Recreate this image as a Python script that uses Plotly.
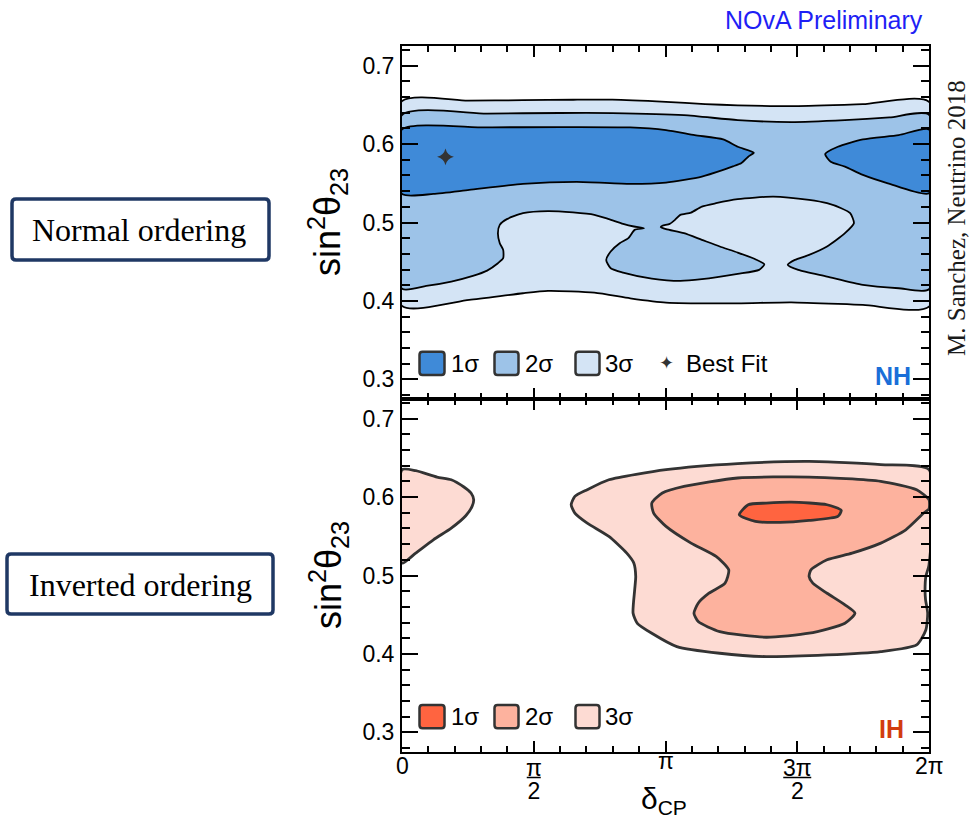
import plotly.graph_objects as go

# ---------------- data (x in units of pi, y = sin^2(theta23)) ----------------
# Normal hierarchy (top panel)
nh3_top_x = [0, 0.25, 0.459, 0.65, 0.798, 1.002, 1.15, 1.274, 1.491, 1.749, 2.0]
nh3_top_y = [0.6547, 0.6553, 0.6559, 0.6565, 0.6566, 0.6538, 0.651, 0.6494, 0.6483, 0.6508, 0.6538]
nh3_bot_x = [2.0, 1.749, 1.477, 1.274, 1.002, 0.866, 0.73, 0.554, 0.459, 0.255, 0]
nh3_bot_y = [0.3928, 0.3949, 0.3983, 0.397, 0.3979, 0.4034, 0.4106, 0.4128, 0.4098, 0.4013, 0.3936]

nh2_top_x = [0, 0.323, 0.6, 0.798, 1.07, 1.274, 1.477, 1.681, 1.85, 2.0]
nh2_top_y = [0.6369, 0.6388, 0.6396, 0.6395, 0.6369, 0.6305, 0.628, 0.6305, 0.634, 0.6373]
nh2_bot_x = [2.0, 1.885, 1.749, 1.613, 1.504, 1.464, 1.491, 1.545, 1.613, 1.681, 1.715,
             1.701, 1.667, 1.613, 1.545, 1.409, 1.274, 1.192, 1.138, 1.097, 1.056, 1.036,
             1.016, 0.988, 0.982, 1.002, 1.07, 1.138, 1.206, 1.274, 1.341, 1.375,
             1.355, 1.274, 1.138, 1.056, 0.948, 0.839, 0.792, 0.775, 0.792, 0.826, 0.859,
             0.883, 0.918, 0.88, 0.839, 0.785, 0.73, 0.649, 0.554, 0.459, 0.398, 0.371,
             0.364, 0.371, 0.384, 0.384, 0.364, 0.323, 0.269, 0.187, 0.092, 0]
nh2_bot_y = [0.4149, 0.4162, 0.4204, 0.4311, 0.4396, 0.446, 0.4523, 0.4587, 0.4694, 0.4864, 0.4991,
             0.5119, 0.5182, 0.5246, 0.5288, 0.533, 0.5297, 0.5246, 0.5203, 0.5127, 0.5097, 0.5034,
             0.4983, 0.4958, 0.4941, 0.4915, 0.4864, 0.4779, 0.4694, 0.4617, 0.4532, 0.4468,
             0.4396, 0.4345, 0.4277, 0.4255, 0.4285, 0.4362, 0.4417, 0.4523, 0.463, 0.4736, 0.48,
             0.4906, 0.4928, 0.4949, 0.4983, 0.5043, 0.5098, 0.5128, 0.5145, 0.5119, 0.5043, 0.497,
             0.4864, 0.4736, 0.4651, 0.4545, 0.4481, 0.4387, 0.4319, 0.4247, 0.4191, 0.4157]

nh1a_x = [0, 0.323, 0.866, 1.002, 1.111, 1.219, 1.274, 1.335, 1.314, 1.287, 1.26, 1.219,
          1.138, 1.002, 0.866, 0.663, 0.459, 0.255, 0.119, 0, 0]
nh1a_y = [0.6186, 0.6212, 0.6212, 0.6178, 0.6114, 0.6059, 0.5966, 0.589, 0.5839, 0.5754, 0.572, 0.567,
          0.5585, 0.5508, 0.5492, 0.5517, 0.5492, 0.5415, 0.5364, 0.5364, 0.6186]
nh1b_x = [2.0, 1.885, 1.749, 1.654, 1.606, 1.627, 1.681, 1.749, 1.844, 2.0, 2.0]
nh1b_y = [0.6186, 0.6114, 0.6059, 0.5966, 0.5873, 0.5775, 0.5712, 0.5606, 0.55, 0.5373, 0.6186]

best_fit_x = [0.165]
best_fit_y = [0.5837]

# Inverted hierarchy (bottom panel)
ih3a_x = [0, 0.052, 0.133, 0.187, 0.235, 0.262, 0.272, 0.266, 0.242, 0.187, 0.119, 0.052, 0, 0]
ih3a_y = [0.6349, 0.6336, 0.6255, 0.6221, 0.6128, 0.6051, 0.5966, 0.5881, 0.5762, 0.5604, 0.5455,
          0.5285, 0.5157, 0.6349]
ih3b_x = [2.0, 1.817, 1.545, 1.274, 1.002, 0.785, 0.703, 0.656, 0.642, 0.656, 0.703, 0.785, 0.853,
          0.88, 0.887, 0.883, 0.877, 0.893, 0.948, 1.043, 1.206, 1.382, 1.613, 1.817, 1.953, 1.988,
          1.995, 1.987, 1.985, 1.988, 2.0, 2.0]
ih3b_y = [0.6349, 0.6413, 0.6455, 0.6426, 0.6349, 0.6221, 0.6094, 0.6009, 0.5902, 0.5796, 0.5668,
          0.5498, 0.5285, 0.5157, 0.4987, 0.4817, 0.4519, 0.4391, 0.4264, 0.4094, 0.4009, 0.3966,
          0.3987, 0.403, 0.4115, 0.4306, 0.4519, 0.4689, 0.4817, 0.4987, 0.5136, 0.6349]
ih2_x = [2.0, 1.953, 1.817, 1.545, 1.274, 1.07, 0.988, 0.948, 0.955, 1.002, 1.097, 1.192, 1.24,
         1.226, 1.165, 1.124, 1.108, 1.124, 1.206, 1.382, 1.545, 1.681, 1.719, 1.681, 1.613,
         1.559, 1.545, 1.552, 1.613, 1.708, 1.817, 1.912, 1.98, 2.0, 2.0]
ih2_y = [0.5966, 0.6094, 0.62, 0.6255, 0.6243, 0.6136, 0.6051, 0.5923, 0.5796, 0.5626, 0.5413,
         0.5243, 0.5072, 0.4902, 0.4774, 0.4647, 0.4519, 0.4413, 0.4285, 0.4213, 0.4264, 0.4391,
         0.4519, 0.4626, 0.4774, 0.4902, 0.4987, 0.5072, 0.52, 0.5285, 0.5413, 0.5583, 0.5796,
         0.585, 0.5966]
ih1_x = [1.28, 1.314, 1.382, 1.477, 1.613, 1.667, 1.654, 1.545, 1.436, 1.341, 1.28]
ih1_y = [0.5774, 0.5902, 0.5923, 0.5936, 0.5902, 0.583, 0.5753, 0.5702, 0.5677, 0.5689, 0.5774]

x_tick_vals = [0, 0.5, 1, 1.5, 2]
y_tick_vals = [0.3, 0.4, 0.5, 0.6, 0.7]
legend_labels = ["1σ", "2σ", "3σ"]

# ---------------- style ----------------
NH_COL = ["#3f8ad8", "#9dc3e8", "#d4e4f5"]
IH_COL = ["#ff6440", "#fdb29e", "#fddbd3"]
SANS = "Liberation Sans, Arial, Helvetica, sans-serif"
SERIF = "Liberation Serif, Times New Roman, serif"

L, R, T, B, W, H = 402, 42, 46, 69, 971, 821
PW, PH = W - L - R, H - T - B


def X(px):
    return (px - L) / PW


def Y(py):
    return (H - B - py) / PH


fig = go.Figure()


def poly(x, y, col, xa, ya, lw, lc):
    fig.add_trace(go.Scatter(x=x, y=y, mode="lines", fill="toself", fillcolor=col,
                             line=dict(color=lc, width=lw, shape="spline", smoothing=0.6),
                             xaxis=xa, yaxis=ya, hoverinfo="skip", showlegend=False))


# top panel (x2, y2)
poly(nh3_top_x + nh3_bot_x + nh3_top_x[:1], nh3_top_y + nh3_bot_y + nh3_top_y[:1],
     NH_COL[2], "x2", "y2", 1.8, "black")
poly(nh2_top_x + nh2_bot_x + nh2_top_x[:1], nh2_top_y + nh2_bot_y + nh2_top_y[:1],
     NH_COL[1], "x2", "y2", 1.8, "black")
poly(nh1a_x, nh1a_y, NH_COL[0], "x2", "y2", 1.8, "black")
poly(nh1b_x, nh1b_y, NH_COL[0], "x2", "y2", 1.8, "black")
fig.add_trace(go.Scatter(x=best_fit_x, y=best_fit_y, mode="markers", xaxis="x2", yaxis="y2",
                         marker=dict(symbol="star-diamond", size=12, color="#333333"),
                         hoverinfo="skip", showlegend=False))

# bottom panel (x, y)
IHL = "#333333"
poly(ih3a_x, ih3a_y, IH_COL[2], "x", "y", 2.8, IHL)
poly(ih3b_x, ih3b_y, IH_COL[2], "x", "y", 2.8, IHL)
poly(ih2_x, ih2_y, IH_COL[1], "x", "y", 2.8, IHL)
poly(ih1_x, ih1_y, IH_COL[0], "x", "y", 2.8, IHL)

xax = dict(range=[0, 2], tickmode="array", tickvals=x_tick_vals, ticks="inside", ticklen=11,
           tickwidth=1.5, tickcolor="black", showticklabels=False,
           minor=dict(tickmode="linear", tick0=0, dtick=0.1, ticks="inside", ticklen=6,
                      tickwidth=1.5, tickcolor="black", showgrid=False),
           showline=True, linewidth=2, linecolor="black", mirror="allticks",
           showgrid=False, zeroline=False)
yax = dict(range=[0.275, 0.725], tickmode="array", tickvals=y_tick_vals,
           ticktext=[f"{v:.1f}" for v in y_tick_vals], ticks="inside", ticklen=16,
           tickwidth=1.5, tickcolor="black",
           minor=dict(tickmode="linear", tick0=0.3, dtick=0.02, ticks="inside", ticklen=8,
                      tickwidth=1.5, tickcolor="black", showgrid=False),
           showline=True, linewidth=2, linecolor="black", mirror="allticks",
           showgrid=False, zeroline=False, ticklabelstandoff=1,
           tickfont=dict(family=SANS, size=23, color="black"))

fig.update_layout(
    width=W, height=H, margin=dict(l=L, r=R, t=T, b=B, autoexpand=False),
    paper_bgcolor="white", plot_bgcolor="white", showlegend=False,
    xaxis=dict(xax, domain=[0, 1], anchor="y"),
    yaxis=dict(yax, domain=[0, 0.5], anchor="x"),
    xaxis2=dict(xax, domain=[0, 1], anchor="y2", matches="x"),
    yaxis2=dict(yax, domain=[0.5, 1], anchor="x2"),
)

ann = []
shapes = []


def text(x, y, s, size, color="black", family=SANS, xanchor="center", xref="paper", **kw):
    ann.append(dict(x=x, y=y, xref=xref, yref="paper", text=s, showarrow=False,
                    font=dict(family=family, size=size, color=color), xanchor=xanchor,
                    yanchor="middle", **kw))


# x tick labels (bottom panel)
text(x_tick_vals[0], Y(766), "0", 23, xref="x")
text(x_tick_vals[4], Y(766), "2π", 23, xref="x")
text(x_tick_vals[2], Y(761), "π", 23, xref="x")
for v, num in ((x_tick_vals[1], "π"), (x_tick_vals[3], "3π")):
    big = "<span style='font-size:23px'>%s</span>"
    text(v, Y(779.5), big % num + "<br>" + big % "2", 17.5, xref="x")
    half = 7 if num == "π" else 14
    shapes.append(dict(type="line", xref="x", xsizemode="pixel", xanchor=v, x0=-half, x1=half,
                       yref="paper", y0=Y(777.5), y1=Y(777.5), line=dict(color="black", width=1.5)))

# axis titles
text(X(664), Y(800), "δ<sub>CP</sub>", 30)
text(X(328), Y(222), "sin<sup>2</sup>θ<sub>23</sub>", 36, textangle=-90)
text(X(328), Y(575), "sin<sup>2</sup>θ<sub>23</sub>", 36, textangle=-90)

# header / side texts
text(X(925), Y(20), "NOvA Preliminary", 25, color="#1f1ff5", xanchor="right")
text(X(957), Y(218), "M. Sanchez, Neutrino 2018", 25, color="#1a1a1a", family=SERIF, textangle=-90)


def rounded_rect(x0, x1, y0, y1, r=4):
    # pixel corners -> paper path with rounded corners
    ax0, ax1, ay0, ay1 = X(x0), X(x1), Y(y1), Y(y0)
    rx, ry = r / PW, r / PH
    return (f"M {ax0 + rx},{ay0} L {ax1 - rx},{ay0} Q {ax1},{ay0} {ax1},{ay0 + ry} "
            f"L {ax1},{ay1 - ry} Q {ax1},{ay1} {ax1 - rx},{ay1} L {ax0 + rx},{ay1} "
            f"Q {ax0},{ay1} {ax0},{ay1 - ry} L {ax0},{ay0 + ry} Q {ax0},{ay0} {ax0 + rx},{ay0} Z")


# ordering boxes
for (x0, x1, y0, y1, s, cx, cy) in ((12, 269, 199, 260, "Normal ordering", 139, 230),
                                     (7, 273, 554, 614, "Inverted ordering", 140, 585)):
    shapes.append(dict(type="path", xref="paper", yref="paper", path=rounded_rect(x0, x1, y0, y1),
                       line=dict(color="#1f3864", width=3.5)))
    text(X(cx), Y(cy), s, 32, family=SERIF)

# legends
box_x = [(419.5, 444.5), (494.5, 518.5), (575.5, 599.5)]
lab_x = [449, 522.5, 603]
for cols, (ytop, ybot, ymid) in ((NH_COL, (351.7, 375, 363)), (IH_COL, (705, 728.3, 716.7))):
    for i in range(3):
        shapes.append(dict(type="path", xref="paper", yref="paper",
                           path=rounded_rect(box_x[i][0], box_x[i][1], ytop, ybot, r=3),
                           fillcolor=cols[i], line=dict(color="#333333", width=2.5)))
        text(X(lab_x[i]), Y(ymid), legend_labels[i], 24, xanchor="left")
text(X(666), Y(363), "✦", 18, color="#333333")
text(X(683.5), Y(363), "Best Fit", 24, xanchor="left")

text(X(913), Y(376), "<b>NH</b>", 25, color="#1a6ed8", xanchor="right")
text(X(906), Y(729.3), "<b>IH</b>", 25, color="#d23c0f", xanchor="right")

fig.update_layout(annotations=ann, shapes=shapes)
fig.write_html("out.html")
